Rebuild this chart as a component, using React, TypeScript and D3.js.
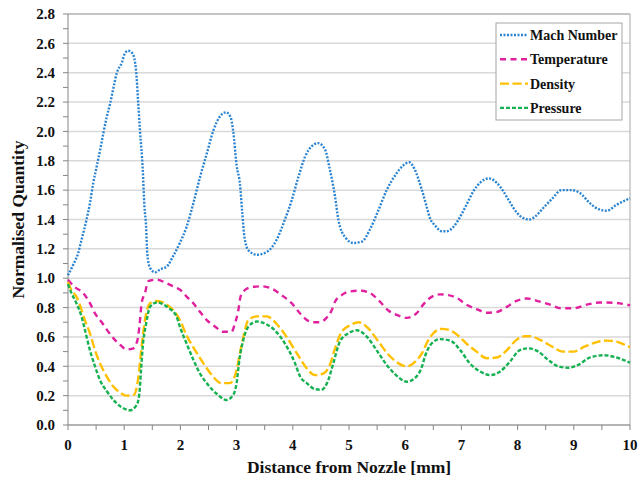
import React from "react";
import * as d3 from "d3";

const xTicks = [0, 1, 2, 3, 4, 5, 6, 7, 8, 9, 10];
const yTicks = [0, 0.2, 0.4, 0.6, 0.8, 1.0, 1.2, 1.4, 1.6, 1.8, 2.0, 2.2, 2.4, 2.6, 2.8];

const machData: [number, number][] = [
  [0, 1.02], [0.09, 1.09], [0.18, 1.17], [0.24, 1.26], [0.33, 1.4], [0.39, 1.51], [0.45, 1.65], [0.51, 1.76],
  [0.57, 1.87], [0.63, 1.99], [0.69, 2.1], [0.75, 2.19], [0.81, 2.3], [0.87, 2.4], [0.96, 2.47], [1.01, 2.53],
  [1.07, 2.55], [1.15, 2.53], [1.21, 2.42], [1.25, 2.19], [1.28, 2.01], [1.33, 1.74], [1.36, 1.49], [1.39, 1.35],
  [1.41, 1.17], [1.46, 1.07], [1.55, 1.04], [1.64, 1.06], [1.76, 1.08], [1.87, 1.15], [1.99, 1.24], [2.11, 1.35],
  [2.23, 1.51], [2.35, 1.69], [2.47, 1.85], [2.59, 2.01], [2.7, 2.1], [2.81, 2.13], [2.89, 2.1], [2.94, 2.0],
  [3.0, 1.77], [3.06, 1.64], [3.1, 1.45], [3.14, 1.28], [3.21, 1.19], [3.36, 1.16], [3.54, 1.18], [3.71, 1.26],
  [3.86, 1.4], [3.98, 1.53], [4.1, 1.69], [4.22, 1.83], [4.34, 1.9], [4.45, 1.92], [4.57, 1.88], [4.66, 1.74],
  [4.75, 1.56], [4.81, 1.4], [4.93, 1.28], [5.08, 1.24], [5.23, 1.25], [5.37, 1.33], [5.52, 1.46], [5.67, 1.6],
  [5.82, 1.7], [5.97, 1.77], [6.07, 1.79], [6.17, 1.74], [6.29, 1.61], [6.38, 1.49], [6.44, 1.41], [6.53, 1.36],
  [6.65, 1.32], [6.74, 1.32], [6.86, 1.35], [6.98, 1.42], [7.09, 1.5], [7.21, 1.59], [7.33, 1.65], [7.49, 1.68],
  [7.63, 1.65], [7.75, 1.59], [7.86, 1.52], [7.98, 1.45], [8.1, 1.41], [8.21, 1.4], [8.31, 1.42], [8.46, 1.48],
  [8.61, 1.54], [8.78, 1.6], [8.96, 1.6], [9.11, 1.58], [9.29, 1.51], [9.44, 1.47], [9.59, 1.46], [9.76, 1.5],
  [9.97, 1.54], [10.0, 1.545],
];

const temperatureData: [number, number][] = [
  [0, 0.99], [0.12, 0.94], [0.27, 0.9], [0.39, 0.83], [0.48, 0.76], [0.6, 0.7], [0.69, 0.65], [0.81, 0.59],
  [0.93, 0.545], [1.04, 0.515], [1.15, 0.52], [1.23, 0.57], [1.27, 0.67], [1.31, 0.83], [1.37, 0.9], [1.43, 0.98],
  [1.58, 0.99], [1.76, 0.965], [1.9, 0.94], [2.0, 0.92], [2.11, 0.875], [2.23, 0.83], [2.35, 0.77], [2.47, 0.715],
  [2.62, 0.67], [2.76, 0.635], [2.91, 0.635], [2.97, 0.69], [3.03, 0.78], [3.07, 0.875], [3.15, 0.92], [3.27, 0.94],
  [3.45, 0.945], [3.62, 0.93], [3.8, 0.885], [3.98, 0.83], [4.13, 0.76], [4.25, 0.715], [4.36, 0.7], [4.48, 0.7],
  [4.6, 0.73], [4.69, 0.78], [4.75, 0.84], [4.87, 0.885], [5.02, 0.91], [5.2, 0.915], [5.37, 0.9], [5.55, 0.84],
  [5.7, 0.78], [5.85, 0.75], [6.03, 0.73], [6.2, 0.76], [6.32, 0.82], [6.44, 0.865], [6.62, 0.89], [6.77, 0.885],
  [6.92, 0.865], [7.09, 0.82], [7.27, 0.79], [7.45, 0.765], [7.63, 0.77], [7.81, 0.805], [7.98, 0.845], [8.16, 0.862],
  [8.4, 0.84], [8.58, 0.82], [8.78, 0.795], [8.99, 0.795], [9.23, 0.82], [9.47, 0.835], [9.7, 0.833], [9.94, 0.82],
  [10.0, 0.815],
];

const densityData: [number, number][] = [
  [0, 0.975], [0.06, 0.92], [0.15, 0.875], [0.21, 0.82], [0.3, 0.715], [0.39, 0.625], [0.48, 0.51], [0.57, 0.42],
  [0.69, 0.33], [0.81, 0.26], [0.93, 0.22], [1.04, 0.2], [1.17, 0.205], [1.25, 0.32], [1.31, 0.535], [1.37, 0.715],
  [1.46, 0.83], [1.58, 0.845], [1.76, 0.82], [1.9, 0.77], [1.99, 0.715], [2.11, 0.61], [2.26, 0.51], [2.41, 0.42],
  [2.56, 0.34], [2.73, 0.285], [2.88, 0.285], [3.0, 0.375], [3.06, 0.49], [3.12, 0.6], [3.21, 0.715], [3.36, 0.74],
  [3.54, 0.74], [3.71, 0.69], [3.89, 0.6], [4.07, 0.49], [4.25, 0.385], [4.39, 0.34], [4.54, 0.35], [4.66, 0.41],
  [4.75, 0.52], [4.87, 0.635], [5.02, 0.68], [5.17, 0.7], [5.34, 0.66], [5.52, 0.57], [5.7, 0.48], [5.88, 0.42],
  [6.03, 0.4], [6.2, 0.44], [6.3, 0.49], [6.38, 0.555], [6.5, 0.625], [6.65, 0.655], [6.8, 0.645], [6.94, 0.61],
  [7.09, 0.555], [7.27, 0.5], [7.45, 0.455], [7.63, 0.46], [7.81, 0.51], [7.98, 0.58], [8.13, 0.605], [8.22, 0.605],
  [8.4, 0.58], [8.61, 0.535], [8.81, 0.5], [8.99, 0.5], [9.2, 0.535], [9.41, 0.565], [9.59, 0.575], [9.79, 0.565],
  [9.97, 0.535], [10.0, 0.53],
];

const pressureData: [number, number][] = [
  [0, 0.96], [0.06, 0.9], [0.15, 0.83], [0.24, 0.74], [0.3, 0.65], [0.39, 0.51], [0.48, 0.4], [0.57, 0.305],
  [0.69, 0.23], [0.81, 0.17], [0.96, 0.12], [1.1, 0.1], [1.22, 0.135], [1.27, 0.215], [1.3, 0.375], [1.33, 0.535],
  [1.39, 0.69], [1.46, 0.805], [1.58, 0.835], [1.76, 0.805], [1.93, 0.74], [1.99, 0.67], [2.11, 0.555], [2.23, 0.445],
  [2.35, 0.35], [2.5, 0.27], [2.67, 0.205], [2.82, 0.17], [2.94, 0.205], [3.0, 0.285], [3.05, 0.445], [3.12, 0.58],
  [3.21, 0.67], [3.36, 0.705], [3.51, 0.69], [3.68, 0.645], [3.86, 0.555], [4.04, 0.42], [4.13, 0.33], [4.25, 0.285],
  [4.39, 0.245], [4.51, 0.24], [4.63, 0.305], [4.72, 0.42], [4.84, 0.57], [4.99, 0.625], [5.14, 0.645], [5.32, 0.6],
  [5.49, 0.51], [5.67, 0.41], [5.85, 0.335], [6.03, 0.295], [6.2, 0.33], [6.3, 0.4], [6.35, 0.465], [6.47, 0.555],
  [6.62, 0.585], [6.8, 0.575], [6.98, 0.51], [7.15, 0.42], [7.33, 0.365], [7.51, 0.34], [7.69, 0.365], [7.86, 0.43],
  [8.04, 0.51], [8.19, 0.522], [8.37, 0.5], [8.54, 0.445], [8.72, 0.4], [8.9, 0.39], [9.08, 0.41], [9.29, 0.46],
  [9.53, 0.475], [9.76, 0.46], [10.0, 0.425],
];

const seriesNames = ["Mach Number", "Temperature", "Density", "Pressure"];
const seriesColors = ["#2A84D2", "#E0209E", "#FFC000", "#16B152"];
const seriesDash = ["2 1.5", "6 4.5", "9 3.5", "4 2"];
const seriesWidth = [2.4, 2.4, 2.4, 2.4];

const W = 638;
const H = 481;
const left = 68;
const right = 630;
const top = 14;
const bottom = 425;
const txt = { fontFamily: "Liberation Serif", fontWeight: "bold" };

export default function App() {
  const x = d3.scaleLinear().domain([0, 10]).range([left, right]);
  const y = d3.scaleLinear().domain([0, 2.8]).range([bottom, top]);
  const line = d3
    .line<[number, number]>()
    .x((d) => x(d[0]))
    .y((d) => y(d[1]))
    .curve(d3.curveMonotoneX);
  const allData = [machData, temperatureData, densityData, pressureData];
  const yMinor = d3.range(0, 2.81, 0.1);
  const xMinor = d3.range(0, 10.01, 0.5);

  return (
    <svg width={W} height={H} style={{ position: "absolute", left: 0, top: 0, background: "#fff" }}>
      <rect x={0} y={0} width={W} height={H} fill="#fff" />
      {yTicks.map((t) => (
        <line key={"g" + t} x1={left} x2={right} y1={y(t)} y2={y(t)} stroke="#D9D9D9" strokeWidth={1.5} />
      ))}
      <line x1={left} x2={right} y1={top} y2={top} stroke="#A6A6A6" strokeWidth={1} />
      <line x1={right} x2={right} y1={top} y2={bottom} stroke="#A6A6A6" strokeWidth={1} />
      <line x1={left} x2={left} y1={top} y2={bottom} stroke="#868686" strokeWidth={1} />
      <line x1={left} x2={right} y1={bottom} y2={bottom} stroke="#868686" strokeWidth={1} />
      {yMinor.map((t, i) => (
        <line key={"yt" + i} x1={left - 5} x2={left} y1={y(t)} y2={y(t)} stroke="#868686" strokeWidth={1} />
      ))}
      {xMinor.map((t, i) => (
        <line key={"xt" + i} x1={x(t)} x2={x(t)} y1={bottom} y2={bottom + 5} stroke="#868686" strokeWidth={1} />
      ))}
      {yTicks.map((t) => (
        <text key={"yl" + t} x={55} y={y(t)} dy="0.35em" textAnchor="end" fontSize={15} fill="#111" style={txt}>
          {t.toFixed(1)}
        </text>
      ))}
      {xTicks.map((t) => (
        <text key={"xl" + t} x={x(t)} y={450} textAnchor="middle" fontSize={15} fill="#111" style={txt}>
          {t}
        </text>
      ))}
      <text x={349} y={473} textAnchor="middle" fontSize={17.5} fill="#111" style={txt}>
        Distance from Nozzle  [mm]
      </text>
      <text
        transform={`translate(24, ${(top + bottom) / 2}) rotate(-90)`}
        textAnchor="middle"
        fontSize={17.5}
        fill="#111"
        style={txt}
      >
        Normalised Quantity
      </text>
      {allData.map((d, i) => (
        <path
          key={"s" + i}
          d={line(d) || ""}
          fill="none"
          stroke={seriesColors[i]}
          strokeWidth={seriesWidth[i]}
          strokeDasharray={seriesDash[i]}
        />
      ))}
      <rect x={496} y={23} width={126} height={97} fill="#fff" stroke="#A6A6A6" strokeWidth={1} />
      {seriesNames.map((n, i) => {
        const ly = 35 + i * 24.3;
        return (
          <g key={"l" + i}>
            <line
              x1={500}
              x2={528}
              y1={ly}
              y2={ly}
              stroke={seriesColors[i]}
              strokeWidth={seriesWidth[i]}
              strokeDasharray={seriesDash[i]}
            />
            <text x={530} y={ly} dy="0.35em" fontSize={14} fill="#111" style={txt}>
              {n}
            </text>
          </g>
        );
      })}
    </svg>
  );
}
